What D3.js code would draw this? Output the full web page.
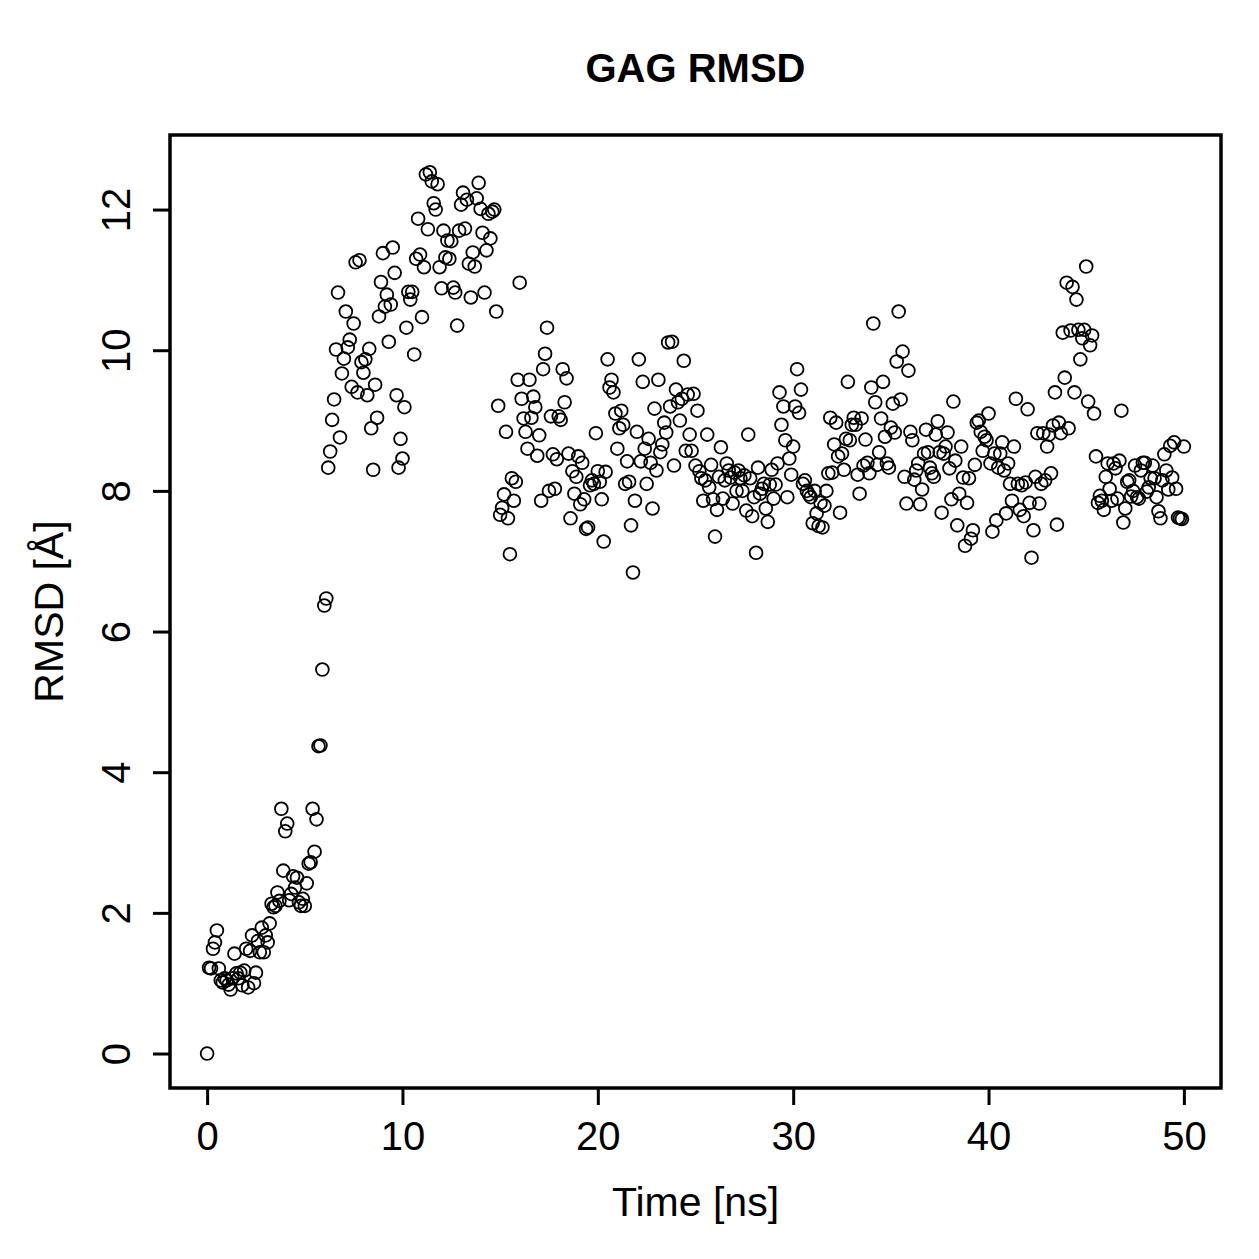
<!DOCTYPE html>
<html>
<head>
<meta charset="utf-8">
<script src="https://cdn.jsdelivr.net/npm/d3@7"></script>
<style>
  html, body { margin: 0; padding: 0; background: #fff; }
  svg { display: block; }
  text { font-family: "Liberation Sans", Arial, Helvetica, sans-serif; fill: #000; }
</style>
</head>
<body>
<svg id="chart" width="1259" height="1259"></svg>
<script>
// ---- data (RMSD in Å, sampled every 0.1 ns from 0 to 50 ns) ----
const title = "GAG RMSD";
const xLabel = "Time [ns]";
const yLabel = "RMSD [Å]";
const timeStep = 0.1;
const xTicks = [0, 10, 20, 30, 40, 50];
const yTicks = [0, 2, 4, 6, 8, 10, 12];

const rmsd0to10 = [
  0, 1.22, 1.21, 1.49, 1.58, 1.75, 1.21, 1.04, 1.01, 1.07,
  1.04, 0.98, 0.91, 1.07, 1.42, 1.14, 1.07, 1.15, 0.97, 1.18,
  1.49, 0.94, 1.46, 1.68, 1.0, 1.15, 1.6, 1.44, 1.79, 1.44,
  1.68, 1.58, 1.85, 2.13, 2.08, 2.1, 2.29, 2.17, 3.48, 2.6,
  3.16, 3.27, 2.18, 2.27, 2.52, 2.36, 2.5, 2.15, 2.1, 2.2,
  2.1, 2.42, 2.7, 2.72, 3.48, 2.87, 3.33, 4.37, 4.38, 5.46,
  6.37, 6.47, 8.33, 8.56, 9.01, 9.3, 10.01, 10.82, 8.76, 9.67,
  9.88, 10.55, 10.04, 10.15, 9.48, 10.38, 11.25, 9.4, 11.28, 9.83,
  9.68, 9.87, 9.36, 10.02, 8.89, 8.3, 9.51, 9.04, 10.48, 10.97,
  11.38, 10.62, 10.79, 10.12, 10.65, 11.46, 11.1, 9.36, 8.33, 8.74
];
const rmsd10to20 = [
  8.46, 9.19, 10.32, 10.83, 10.72, 10.83, 9.94, 11.3, 11.87, 11.36,
  10.47, 11.18, 12.5, 11.72, 12.53, 12.4, 12.09, 12.0, 12.36, 11.18,
  10.88, 11.7, 11.32, 11.56, 11.3, 11.55, 10.89, 10.82, 10.35, 11.7,
  12.07, 12.24, 11.73, 12.14, 11.23, 10.75, 11.39, 11.19, 12.16, 12.38,
  12.01, 11.67, 10.82, 11.42, 11.94, 11.59, 11.97, 12.0, 10.55, 9.21,
  7.66, 7.76, 7.95, 8.84, 7.61, 7.1, 8.18, 7.86, 8.13, 9.58,
  10.96, 9.31, 9.03, 8.84, 8.6, 9.58, 9.04, 9.34, 9.19, 8.5,
  8.79, 7.86, 9.73, 9.95, 10.32, 8.0, 9.06, 8.52, 8.03, 8.45,
  9.06, 9.01, 9.73, 9.26, 9.6, 8.53, 7.61, 8.28, 7.96, 8.2,
  8.49, 7.81, 8.4, 7.88, 7.46, 7.48, 8.08, 8.15, 8.1, 8.82
];
const rmsd20to30 = [
  8.28, 8.13, 7.88, 7.28, 8.27, 9.87, 9.47, 9.58, 9.4, 9.1,
  8.6, 8.89, 9.14, 8.94, 8.1, 8.42, 8.13, 7.51, 6.84, 7.86,
  8.84, 9.87, 8.42, 9.55, 8.6, 8.1, 8.74, 8.4, 7.75, 9.17,
  8.29, 9.58, 8.55, 8.66, 8.97, 8.83, 10.11, 9.2, 10.12, 8.36,
  9.44, 9.26, 9.0, 9.31, 9.85, 8.57, 9.37, 8.8, 8.57, 9.38,
  8.36, 9.14, 8.28, 8.18, 7.86, 8.15, 8.8, 8.05, 8.37, 7.88,
  7.35, 7.73, 8.2, 8.62, 7.89, 8.15, 8.39, 8.29, 8.19, 7.82,
  8.26, 8.0, 8.29, 8.18, 8.0, 8.22, 7.72, 8.8, 8.18, 7.64,
  7.91, 7.12, 8.33, 7.96, 8.03, 8.1, 7.75, 7.56, 8.09, 8.3,
  7.89, 8.09, 8.39, 9.4, 8.94, 9.2, 8.72, 7.91, 8.46, 8.23
];
const rmsd30to40 = [
  8.63, 9.2, 9.73, 9.11, 9.44, 8.1, 8.15, 8.0, 7.95, 7.91,
  7.54, 8.0, 7.68, 7.5, 7.83, 7.48, 7.79, 8.0, 8.25, 9.04,
  8.26, 8.66, 8.97, 8.49, 7.69, 8.53, 8.3, 8.74, 9.55, 8.72,
  8.94, 9.04, 8.94, 8.23, 7.96, 9.03, 8.36, 8.73, 8.4, 8.25,
  9.47, 10.38, 9.26, 8.37, 8.55, 9.03, 9.55, 8.77, 8.39, 8.33,
  8.9, 9.24, 8.83, 9.84, 10.55, 9.3, 9.98, 8.2, 7.82, 9.71,
  8.84, 8.72, 8.16, 8.29, 8.39, 7.81, 8.02, 8.53, 8.87, 8.55,
  8.33, 8.25, 8.2, 8.8, 8.99, 8.55, 7.69, 8.53, 8.63, 8.83,
  8.32, 7.88, 9.27, 8.43, 7.51, 7.96, 8.63, 8.19, 7.22, 7.83,
  8.18, 7.32, 7.44, 8.37, 8.97, 9.0, 8.84, 8.57, 8.77, 8.72
];
const rmsd40to50 = [
  9.1, 8.39, 7.42, 8.53, 7.58, 8.33, 8.53, 8.69, 8.29, 7.68,
  8.39, 8.1, 7.86, 8.63, 9.31, 8.1, 7.73, 8.08, 7.64, 8.12,
  9.16, 7.83, 7.05, 7.44, 8.2, 8.82, 7.82, 8.1, 8.82, 8.15,
  8.63, 8.8, 8.25, 8.93, 9.4, 7.52, 8.97, 8.82, 10.25, 9.61,
  10.96, 8.89, 10.28, 10.9, 9.4, 10.72, 10.29, 9.87, 10.17, 10.29,
  11.19, 9.27, 10.07, 10.21, 9.1, 8.49, 7.83, 7.93, 7.86, 7.73,
  8.2, 8.39, 8.03, 7.86, 8.39, 8.32, 7.89, 8.43, 9.14, 7.55,
  7.75, 8.13, 8.15, 7.92, 8.0, 8.36, 7.91, 7.89, 8.29, 8.4,
  8.4, 7.99, 8.05, 8.18, 8.36, 8.18, 7.91, 7.71, 7.61, 8.15,
  8.52, 8.29, 8.02, 8.64, 8.19, 8.69, 8.03, 7.62, 7.61, 7.6,
  8.63
];

// ---- build the table ----
const rmsd = [].concat(rmsd0to10, rmsd10to20, rmsd20to30, rmsd30to40, rmsd40to50);
const points = rmsd.map((v, i) => ({ t: +(i * timeStep).toFixed(1), v }));

// ---- layout ----
const svg = d3.select("#chart");
const plot = { left: 170, right: 1221, top: 135, bottom: 1088 };

const x = d3.scaleLinear().domain([-1.9, 51.9]).range([plot.left, plot.right]);
const y = d3.scaleLinear().domain([-0.49, 13.06]).range([plot.bottom, plot.top]);

const fontSize = 40;

// points
svg.append("g")
  .selectAll("circle")
  .data(points)
  .join("circle")
  .attr("cx", d => x(d.t))
  .attr("cy", d => y(d.v))
  .attr("r", 6.4)
  .attr("fill", "none")
  .attr("stroke", "#000")
  .attr("stroke-width", 1.8);

// x axis
const xAxis = d3.axisBottom(x).tickValues(xTicks).tickSize(17).tickPadding(0).tickFormat(d3.format("d"));
const gx = svg.append("g").attr("transform", `translate(0,${plot.bottom})`).call(xAxis);
gx.select(".domain").remove();
gx.selectAll(".tick line").attr("stroke", "#000").attr("stroke-width", 3);
gx.selectAll(".tick text")
  .attr("y", 62)
  .attr("dy", null)
  .style("font-size", fontSize + "px")
  .attr("fill", "#000");

// y axis
const yAxis = d3.axisLeft(y).tickValues(yTicks).tickSize(17).tickPadding(0).tickFormat(d3.format("d"));
const gy = svg.append("g").attr("transform", `translate(${plot.left},0)`).call(yAxis);
gy.select(".domain").remove();
gy.selectAll(".tick line").attr("stroke", "#000").attr("stroke-width", 3);
gy.selectAll(".tick text")
  .attr("x", null)
  .attr("dy", null)
  .attr("transform", "translate(-40,0) rotate(-90)")
  .attr("text-anchor", "middle")
  .style("font-size", fontSize + "px")
  .attr("fill", "#000");

// box
svg.append("rect")
  .attr("x", plot.left)
  .attr("y", plot.top)
  .attr("width", plot.right - plot.left)
  .attr("height", plot.bottom - plot.top)
  .attr("fill", "none")
  .attr("stroke", "#000")
  .attr("stroke-width", 3.5);

// title
svg.append("text")
  .attr("x", (plot.left + plot.right) / 2)
  .attr("y", 82)
  .attr("text-anchor", "middle")
  .style("font-size", "40px")
  .style("font-weight", "bold")
  .text(title);

// axis labels
svg.append("text")
  .attr("x", (plot.left + plot.right) / 2)
  .attr("y", 1216)
  .attr("text-anchor", "middle")
  .style("font-size", "41px")
  .text(xLabel);

svg.append("text")
  .attr("transform", `translate(63,${(plot.top + plot.bottom) / 2}) rotate(-90)`)
  .attr("text-anchor", "middle")
  .style("font-size", "41px")
  .text(yLabel);
</script>
</body>
</html>
